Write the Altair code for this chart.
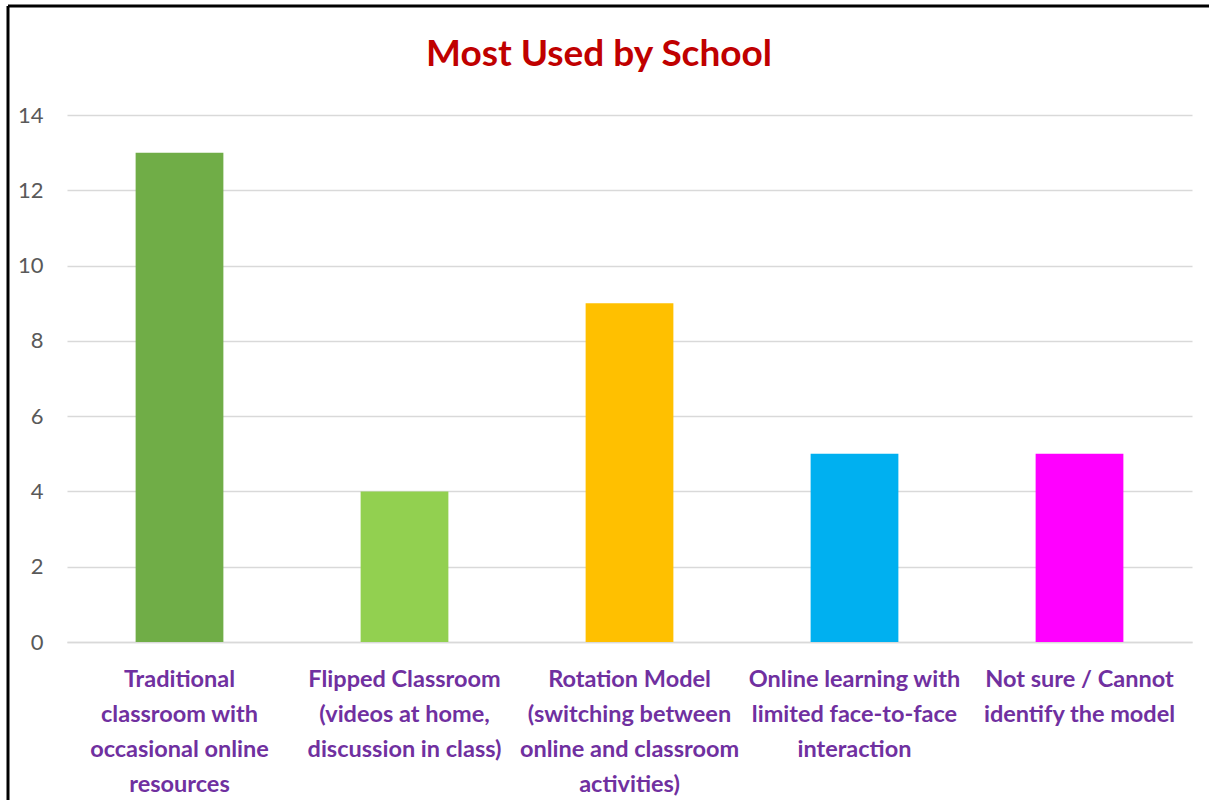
import altair as alt
import pandas as pd

categories = [
    "Traditional|classroom with|occasional online|resources",
    "Flipped Classroom|(videos at home,|discussion in class)",
    "Rotation Model|(switching between|online and classroom|activities)",
    "Online learning with|limited face-to-face|interaction",
    "Not sure / Cannot|identify the model",
]
values = [13, 4, 9, 5, 5]
colors = ["#70AD47", "#92D050", "#FFC000", "#00B0F0", "#FF00FF"]
title_text = ["Most Used by School"]

df = pd.DataFrame({"category": categories, "value": values, "color": colors})

W, H = 1125, 527
LEFT, TOP = 67, 115

bars = alt.Chart(df).mark_bar().encode(
    x=alt.X(
        "category:N",
        sort=categories,
        scale=alt.Scale(paddingInner=0.61, paddingOuter=0.305),
        axis=alt.Axis(
            title=None,
            labelAngle=0,
            labelExpr="split(datum.value, '|')",
            labelFont="Lato",
            labelFontWeight="bold",
            labelFontSize=23.5,
            labelColor="#7030A0",
            labelLineHeight=35,
            labelBaseline="top",
            labelPadding=25,
            labelLimit=400,
            ticks=False,
            domainColor="#D9D9D9",
            domainWidth=1.5,
            grid=False,
        ),
    ),
    y=alt.Y(
        "value:Q",
        scale=alt.Scale(domain=[0, 14]),
        axis=alt.Axis(
            title=None,
            values=[0, 2, 4, 6, 8, 10, 12, 14],
            labelFont="Lato",
            labelFontSize=22,
            labelColor="#595959",
            labelPadding=24,
            ticks=False,
            domain=False,
            gridColor="#D9D9D9",
            gridWidth=1.5,
        ),
    ),
    color=alt.Color("color:N", scale=None, legend=None),
)

title = alt.Chart(pd.DataFrame({"t": title_text})).mark_text(
    font="Lato", fontSize=37, fontWeight="bold", color="#C00000",
    align="center", baseline="middle",
).encode(text="t:N", x=alt.value(599 - LEFT), y=alt.value(55 - TOP))

border_top = alt.Chart(alt.Data(values=[{}])).mark_rule(color="black", strokeWidth=3).encode(
    x=alt.value(8 - LEFT), x2=alt.value(1209 - LEFT + 5), y=alt.value(6 - TOP)
)
border_left = alt.Chart(alt.Data(values=[{}])).mark_rule(color="black", strokeWidth=3).encode(
    x=alt.value(8 - LEFT), y=alt.value(6 - TOP), y2=alt.value(800 - TOP + 5)
)

chart = alt.layer(bars, title, border_top, border_left).properties(
    width=W,
    height=H,
    autosize=alt.AutoSizeParams(type="none"),
    padding={"left": LEFT, "top": TOP, "right": 1209 - LEFT - W, "bottom": 800 - TOP - H},
).configure_view(stroke=None)

chart.save("out.html", embed_options={"renderer": "svg", "actions": False})
